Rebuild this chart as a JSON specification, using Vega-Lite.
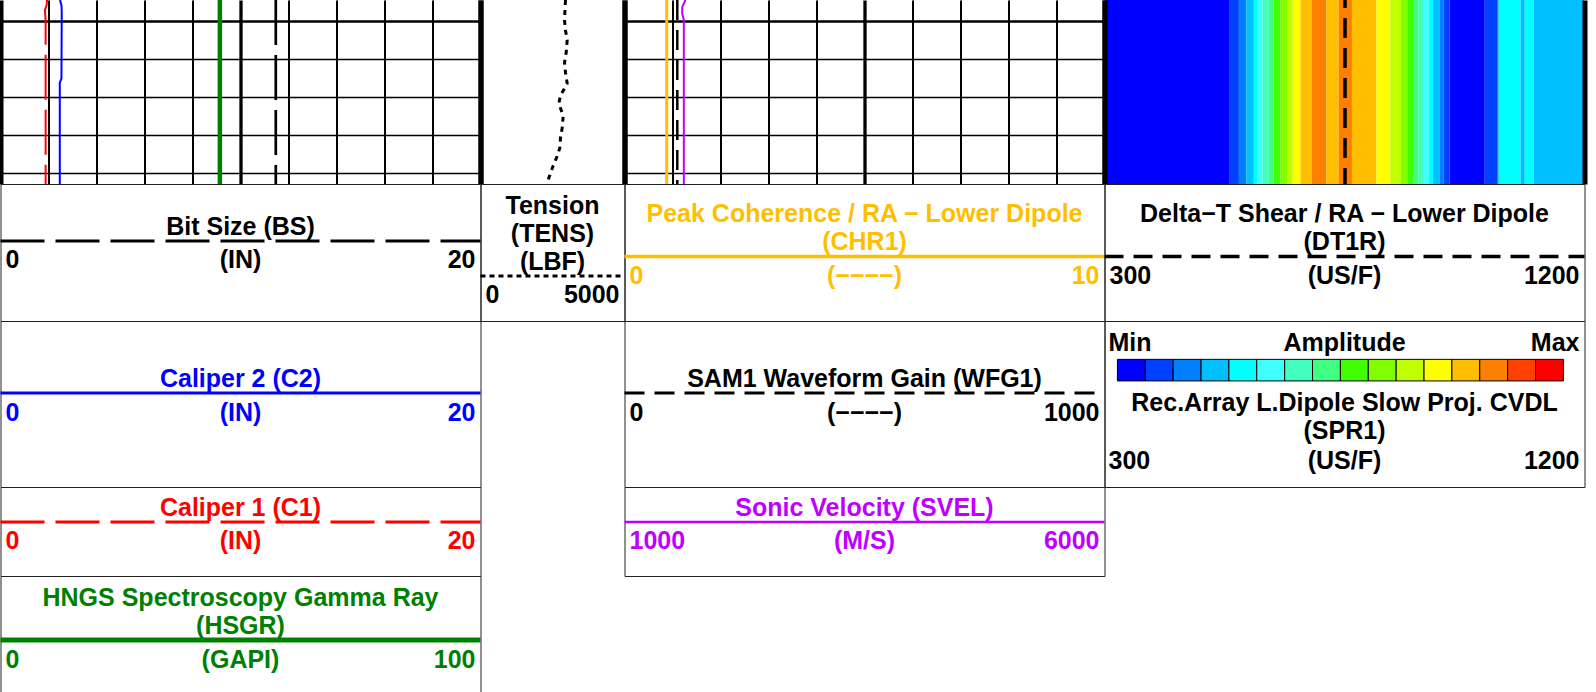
{
  "$schema": "https://vega.github.io/schema/vega-lite/v6.json",
  "padding": {"left": -2.5, "top": 0, "right": 0, "bottom": 0},
  "background": "white",
  "columns": 4,
  "spacing": 0,
  "bounds": "flush",
  "align": "each",
  "config": {
    "view": {"stroke": null},
    "text": {"font": "Liberation Sans", "fontWeight": "bold", "fontSize": 25, "lineHeight": 28, "lineBreak": "\n"},
    "axis": {"gridColor": "black", "gridOpacity": 1}
  },
  "datasets": {
    "track1": [
      {"depth": 999.44, "C1": 1.94, "C2": 2.48, "BS": 11.47, "HSGR": 45.7},
      {"depth": 999.58, "C1": 1.92, "C2": 2.54, "BS": 11.47, "HSGR": 45.7},
      {"depth": 999.71, "C1": 1.85, "C2": 2.55, "BS": 11.47, "HSGR": 45.7},
      {"depth": 999.97, "C1": 1.88, "C2": 2.55, "BS": 11.47, "HSGR": 45.7},
      {"depth": 1001.51, "C1": 1.88, "C2": 2.54, "BS": 11.47, "HSGR": 45.7},
      {"depth": 1001.62, "C1": 1.88, "C2": 2.47, "BS": 11.47, "HSGR": 45.7},
      {"depth": 1004.29, "C1": 1.88, "C2": 2.47, "BS": 11.47, "HSGR": 45.7}
    ],
    "tension": [
      {"depth": 999.44, "TENS": 2951},
      {"depth": 999.97, "TENS": 2917},
      {"depth": 1000.24, "TENS": 2951},
      {"depth": 1000.5, "TENS": 3010},
      {"depth": 1000.82, "TENS": 2976},
      {"depth": 1001.09, "TENS": 2917},
      {"depth": 1001.35, "TENS": 2951},
      {"depth": 1001.64, "TENS": 3010},
      {"depth": 1001.96, "TENS": 2778},
      {"depth": 1002.17, "TENS": 2719},
      {"depth": 1002.49, "TENS": 2871},
      {"depth": 1002.81, "TENS": 2837},
      {"depth": 1003.07, "TENS": 2778},
      {"depth": 1003.34, "TENS": 2754},
      {"depth": 1003.6, "TENS": 2639},
      {"depth": 1003.81, "TENS": 2524},
      {"depth": 1004.13, "TENS": 2372},
      {"depth": 1004.29, "TENS": 2337}
    ],
    "track3": [
      {"depth": 999.44, "CHR1": 0.88, "WFG1": 110, "SVEL": 1635},
      {"depth": 999.63, "CHR1": 0.88, "WFG1": 110, "SVEL": 1601},
      {"depth": 999.79, "CHR1": 0.88, "WFG1": 110, "SVEL": 1601},
      {"depth": 999.97, "CHR1": 0.88, "WFG1": 110, "SVEL": 1618},
      {"depth": 1004.29, "CHR1": 0.88, "WFG1": 110, "SVEL": 1618}
    ],
    "track4": [
      {"depth": 999.44, "DT1R": 751},
      {"depth": 1004.29, "DT1R": 751}
    ],
    "image": [
      {"s0": 300, "s1": 535, "level": 1},
      {"s0": 535, "s1": 552, "level": 2},
      {"s0": 552, "s1": 566, "level": 3},
      {"s0": 566, "s1": 580, "level": 4},
      {"s0": 580, "s1": 587, "level": 5},
      {"s0": 587, "s1": 596, "level": 6},
      {"s0": 596, "s1": 608, "level": 7},
      {"s0": 608, "s1": 617, "level": 8},
      {"s0": 617, "s1": 630, "level": 9},
      {"s0": 630, "s1": 643, "level": 10},
      {"s0": 643, "s1": 653, "level": 11},
      {"s0": 653, "s1": 667.5, "level": 12},
      {"s0": 667.5, "s1": 689, "level": 13},
      {"s0": 689, "s1": 716, "level": 14},
      {"s0": 716, "s1": 739, "level": 13},
      {"s0": 739, "s1": 764, "level": 14},
      {"s0": 764, "s1": 810, "level": 13},
      {"s0": 810, "s1": 836, "level": 12},
      {"s0": 836, "s1": 856, "level": 11},
      {"s0": 856, "s1": 869, "level": 10},
      {"s0": 869, "s1": 880, "level": 9},
      {"s0": 880, "s1": 889, "level": 8},
      {"s0": 889, "s1": 899, "level": 7},
      {"s0": 899, "s1": 908, "level": 6},
      {"s0": 908, "s1": 916, "level": 5},
      {"s0": 916, "s1": 928, "level": 4},
      {"s0": 928, "s1": 936, "level": 3},
      {"s0": 936, "s1": 947, "level": 2},
      {"s0": 947, "s1": 1013, "level": 1},
      {"s0": 1013, "s1": 1036, "level": 2},
      {"s0": 1036, "s1": 1039, "level": 3},
      {"s0": 1039, "s1": 1080, "level": 5},
      {"s0": 1080, "s1": 1088, "level": 4},
      {"s0": 1088, "s1": 1105, "level": 5},
      {"s0": 1105, "s1": 1200, "level": 4}
    ],
    "levels": [
      {"level": 1}, {"level": 2}, {"level": 3}, {"level": 4}, {"level": 5}, {"level": 6}, {"level": 7}, {"level": 8},
      {"level": 9}, {"level": 10}, {"level": 11}, {"level": 12}, {"level": 13}, {"level": 14}, {"level": 15}, {"level": 16}
    ],
    "blank": [{"note": ""}],
    "headers": [
      {"panel": "BS", "role": "title", "text": "Bit Size (BS)", "value": 10},
      {"panel": "BS", "role": "unit", "text": "(IN)", "value": 10},
      {"panel": "BS", "role": "min", "text": "0", "value": 0},
      {"panel": "BS", "role": "max", "text": "20", "value": 20},
      {"panel": "TENS", "role": "title", "text": "Tension\n(TENS)\n(LBF)", "value": 2500},
      {"panel": "TENS", "role": "min", "text": "0", "value": 0},
      {"panel": "TENS", "role": "max", "text": "5000", "value": 5000},
      {"panel": "CHR1", "role": "title", "text": "Peak Coherence / RA − Lower Dipole\n(CHR1)", "value": 5},
      {"panel": "CHR1", "role": "unit", "text": "(−−−−)", "value": 5},
      {"panel": "CHR1", "role": "min", "text": "0", "value": 0},
      {"panel": "CHR1", "role": "max", "text": "10", "value": 10},
      {"panel": "DT1R", "role": "title", "text": "Delta−T Shear / RA − Lower Dipole\n(DT1R)", "value": 750},
      {"panel": "DT1R", "role": "unit", "text": "(US/F)", "value": 750},
      {"panel": "DT1R", "role": "min", "text": "300", "value": 300},
      {"panel": "DT1R", "role": "max", "text": "1200", "value": 1200},
      {"panel": "C2", "role": "title", "text": "Caliper 2 (C2)", "value": 10},
      {"panel": "C2", "role": "unit", "text": "(IN)", "value": 10},
      {"panel": "C2", "role": "min", "text": "0", "value": 0},
      {"panel": "C2", "role": "max", "text": "20", "value": 20},
      {"panel": "WFG1", "role": "title", "text": "SAM1 Waveform Gain (WFG1)", "value": 500},
      {"panel": "WFG1", "role": "unit", "text": "(−−−−)", "value": 500},
      {"panel": "WFG1", "role": "min", "text": "0", "value": 0},
      {"panel": "WFG1", "role": "max", "text": "1000", "value": 1000},
      {"panel": "SPR1", "role": "amin", "text": "Min", "value": 300},
      {"panel": "SPR1", "role": "amid", "text": "Amplitude", "value": 750},
      {"panel": "SPR1", "role": "amax", "text": "Max", "value": 1200},
      {"panel": "SPR1", "role": "title", "text": "Rec.Array L.Dipole Slow Proj. CVDL\n(SPR1)", "value": 750},
      {"panel": "SPR1", "role": "unit", "text": "(US/F)", "value": 750},
      {"panel": "SPR1", "role": "min", "text": "300", "value": 300},
      {"panel": "SPR1", "role": "max", "text": "1200", "value": 1200},
      {"panel": "C1", "role": "title", "text": "Caliper 1 (C1)", "value": 10},
      {"panel": "C1", "role": "unit", "text": "(IN)", "value": 10},
      {"panel": "C1", "role": "min", "text": "0", "value": 0},
      {"panel": "C1", "role": "max", "text": "20", "value": 20},
      {"panel": "SVEL", "role": "title", "text": "Sonic Velocity (SVEL)", "value": 3500},
      {"panel": "SVEL", "role": "unit", "text": "(M/S)", "value": 3500},
      {"panel": "SVEL", "role": "min", "text": "1000", "value": 1000},
      {"panel": "SVEL", "role": "max", "text": "6000", "value": 6000},
      {"panel": "HSGR", "role": "title", "text": "HNGS Spectroscopy Gamma Ray\n(HSGR)", "value": 50},
      {"panel": "HSGR", "role": "unit", "text": "(GAPI)", "value": 50},
      {"panel": "HSGR", "role": "min", "text": "0", "value": 0},
      {"panel": "HSGR", "role": "max", "text": "100", "value": 100}
    ]
  },
  "concat": [
    {
      "width": 480, "height": 184,
      "data": {"name": "track1"},
      "resolve": {"scale": {"x": "independent"}, "axis": {"x": "independent"}},
      "layer": [
        {
          "mark": {"type": "line", "color": "#0000ff", "strokeWidth": 2, "clip": true},
          "encoding": {
            "x": {"field": "C2", "type": "quantitative", "scale": {"domain": [0, 20], "nice": false, "zero": false},
              "axis": {"values": [0, 2, 4, 6, 8, 10, 12, 14, 16, 18, 20], "grid": true, "labels": false, "ticks": false, "domain": false, "title": null,
                "gridWidth": {"condition": [{"test": "datum.value == 0 || datum.value == 20", "value": 5}, {"test": "datum.value == 10", "value": 3.3}], "value": 2}}},
            "y": {"field": "depth", "type": "quantitative", "scale": {"domain": [999.44, 1004.29], "reverse": true, "nice": false, "zero": false},
              "axis": {"values": [1000, 1001, 1002, 1003, 1004], "grid": true, "labels": false, "ticks": false, "domain": false, "title": null,
                "gridWidth": {"condition": {"test": "datum.value == 1000", "value": 2.7}, "value": 1.5}}},
            "order": {"field": "depth", "type": "quantitative"}
          }
        },
        {
          "mark": {"type": "line", "color": "#ff0000", "strokeWidth": 2, "strokeDash": [45, 10], "clip": true},
          "encoding": {
            "x": {"field": "C1", "type": "quantitative", "scale": {"domain": [0, 20], "nice": false, "zero": false}, "axis": null},
            "y": {"field": "depth", "type": "quantitative", "scale": {"domain": [999.44, 1004.29], "reverse": true, "nice": false, "zero": false},
              "axis": {"values": [1000, 1001, 1002, 1003, 1004], "grid": true, "labels": false, "ticks": false, "domain": false, "title": null,
                "gridWidth": {"condition": {"test": "datum.value == 1000", "value": 2.7}, "value": 1.5}}},
            "order": {"field": "depth", "type": "quantitative"}
          }
        },
        {
          "mark": {"type": "line", "color": "#008000", "strokeWidth": 4.5, "clip": true},
          "encoding": {
            "x": {"field": "HSGR", "type": "quantitative", "scale": {"domain": [0, 100], "nice": false, "zero": false}, "axis": null},
            "y": {"field": "depth", "type": "quantitative", "scale": {"domain": [999.44, 1004.29], "reverse": true, "nice": false, "zero": false},
              "axis": {"values": [1000, 1001, 1002, 1003, 1004], "grid": true, "labels": false, "ticks": false, "domain": false, "title": null,
                "gridWidth": {"condition": {"test": "datum.value == 1000", "value": 2.7}, "value": 1.5}}},
            "order": {"field": "depth", "type": "quantitative"}
          }
        },
        {
          "mark": {"type": "line", "color": "black", "strokeWidth": 2.7, "strokeDash": [45, 10], "clip": true},
          "encoding": {
            "x": {"field": "BS", "type": "quantitative", "scale": {"domain": [0, 20], "nice": false, "zero": false}, "axis": null},
            "y": {"field": "depth", "type": "quantitative", "scale": {"domain": [999.44, 1004.29], "reverse": true, "nice": false, "zero": false},
              "axis": {"values": [1000, 1001, 1002, 1003, 1004], "grid": true, "labels": false, "ticks": false, "domain": false, "title": null,
                "gridWidth": {"condition": {"test": "datum.value == 1000", "value": 2.7}, "value": 1.5}}},
            "order": {"field": "depth", "type": "quantitative"}
          }
        }
      ]
    },
    {
      "width": 144, "height": 184,
      "data": {"name": "tension"},
      "mark": {"type": "line", "color": "black", "strokeWidth": 3, "strokeDash": [5, 5], "clip": true},
      "encoding": {
        "x": {"field": "TENS", "type": "quantitative", "scale": {"domain": [0, 5000], "nice": false, "zero": false},
          "axis": {"values": [0, 5000], "grid": true, "labels": false, "ticks": false, "domain": false, "title": null, "gridWidth": 5}},
        "y": {"field": "depth", "type": "quantitative", "scale": {"domain": [999.44, 1004.29], "reverse": true, "nice": false, "zero": false}, "axis": null},
        "order": {"field": "depth", "type": "quantitative"}
      }
    },
    {
      "width": 480, "height": 184,
      "data": {"name": "track3"},
      "resolve": {"scale": {"x": "independent"}, "axis": {"x": "independent"}},
      "layer": [
        {
          "mark": {"type": "line", "color": "#ffbf00", "strokeWidth": 3, "clip": true},
          "encoding": {
            "x": {"field": "CHR1", "type": "quantitative", "scale": {"domain": [0, 10], "nice": false, "zero": false},
              "axis": {"values": [0, 1, 2, 3, 4, 5, 6, 7, 8, 9, 10], "grid": true, "labels": false, "ticks": false, "domain": false, "title": null,
                "gridWidth": {"condition": [{"test": "datum.value == 0 || datum.value == 10", "value": 5}, {"test": "datum.value == 5", "value": 3.3}], "value": 2}}},
            "y": {"field": "depth", "type": "quantitative", "scale": {"domain": [999.44, 1004.29], "reverse": true, "nice": false, "zero": false},
              "axis": {"values": [1000, 1001, 1002, 1003, 1004], "grid": true, "labels": false, "ticks": false, "domain": false, "title": null,
                "gridWidth": {"condition": {"test": "datum.value == 1000", "value": 2.7}, "value": 1.5}}},
            "order": {"field": "depth", "type": "quantitative"}
          }
        },
        {
          "mark": {"type": "line", "color": "black", "strokeWidth": 2.5, "strokeDash": [20, 10], "clip": true},
          "encoding": {
            "x": {"field": "WFG1", "type": "quantitative", "scale": {"domain": [0, 1000], "nice": false, "zero": false}, "axis": null},
            "y": {"field": "depth", "type": "quantitative", "scale": {"domain": [999.44, 1004.29], "reverse": true, "nice": false, "zero": false},
              "axis": {"values": [1000, 1001, 1002, 1003, 1004], "grid": true, "labels": false, "ticks": false, "domain": false, "title": null,
                "gridWidth": {"condition": {"test": "datum.value == 1000", "value": 2.7}, "value": 1.5}}},
            "order": {"field": "depth", "type": "quantitative"}
          }
        },
        {
          "mark": {"type": "line", "color": "#bf00ff", "strokeWidth": 2, "clip": true},
          "encoding": {
            "x": {"field": "SVEL", "type": "quantitative", "scale": {"domain": [1000, 6000], "nice": false, "zero": false}, "axis": null},
            "y": {"field": "depth", "type": "quantitative", "scale": {"domain": [999.44, 1004.29], "reverse": true, "nice": false, "zero": false},
              "axis": {"values": [1000, 1001, 1002, 1003, 1004], "grid": true, "labels": false, "ticks": false, "domain": false, "title": null,
                "gridWidth": {"condition": {"test": "datum.value == 1000", "value": 2.7}, "value": 1.5}}},
            "order": {"field": "depth", "type": "quantitative"}
          }
        }
      ]
    },
    {
      "width": 480, "height": 184,
      "layer": [
        {
          "data": {"name": "image"},
          "mark": {"type": "rect", "clip": true},
          "encoding": {
            "x": {"field": "s0", "type": "quantitative", "scale": {"domain": [300, 1200], "nice": false, "zero": false},
              "axis": {"values": [300, 1200], "grid": true, "labels": false, "ticks": false, "domain": false, "title": null, "gridWidth": 5, "zindex": 1}},
            "x2": {"field": "s1"},
            "y": {"datum": 999.44, "type": "quantitative", "scale": {"domain": [999.44, 1004.29], "reverse": true, "nice": false, "zero": false}, "axis": null},
            "y2": {"datum": 1004.29},
            "color": {"field": "level", "type": "ordinal", "legend": null,
              "scale": {"domain": [1, 2, 3, 4, 5, 6, 7, 8, 9, 10, 11, 12, 13, 14, 15, 16],
                "range": ["#0000ff", "#0040ff", "#0080ff", "#00bfff", "#00ffff", "#40ffff", "#40ffbf", "#40ff80", "#40ff00", "#80ff00", "#bfff00", "#ffff00", "#ffbf00", "#ff8000", "#ff4000", "#ff0000"]}}
          }
        },
        {
          "data": {"name": "track4"},
          "mark": {"type": "line", "color": "black", "strokeWidth": 3.5, "strokeDash": [20, 10], "strokeDashOffset": 12, "clip": true},
          "encoding": {
            "x": {"field": "DT1R", "type": "quantitative"},
            "y": {"field": "depth", "type": "quantitative", "axis": null},
            "order": {"field": "depth", "type": "quantitative"}
          }
        }
      ]
    },
    {
      "width": 480, "height": 137,
      "view": {"stroke": "#222", "strokeWidth": 1},
      "data": {"name": "headers"},
      "encoding": {
        "x": {"field": "value", "type": "quantitative", "scale": {"domain": [0, 20], "nice": false, "zero": false}, "axis": null},
        "y": {"datum": 0.416, "type": "quantitative", "scale": {"domain": [0, 1], "reverse": true, "nice": false, "zero": false}, "axis": null}
      },
      "layer": [
        {"transform": [{"filter": "datum.panel == 'BS' && datum.role == 'title'"}], "mark": {"type": "rule", "color": "black", "strokeWidth": 3, "strokeDash": [44, 11]}, "encoding": {"x": {"datum": 0, "type": "quantitative"}, "x2": {"datum": 20}}},
        {"transform": [{"filter": "datum.panel == 'BS' && datum.role == 'title'"}], "mark": {"type": "text", "color": "black", "align": "center", "baseline": "bottom", "dy": -1}, "encoding": {"text": {"field": "text"}}},
        {"transform": [{"filter": "datum.panel == 'BS' && datum.role == 'unit'"}], "mark": {"type": "text", "color": "black", "align": "center", "baseline": "middle", "dy": 19.5}, "encoding": {"text": {"field": "text"}}},
        {"transform": [{"filter": "datum.panel == 'BS' && datum.role == 'min'"}], "mark": {"type": "text", "color": "black", "align": "left", "dx": 5, "baseline": "middle", "dy": 19.5}, "encoding": {"text": {"field": "text"}}},
        {"transform": [{"filter": "datum.panel == 'BS' && datum.role == 'max'"}], "mark": {"type": "text", "color": "black", "align": "right", "dx": -5, "baseline": "middle", "dy": 19.5}, "encoding": {"text": {"field": "text"}}}
      ]
    },
    {
      "width": 144, "height": 137,
      "view": {"stroke": "#222", "strokeWidth": 1},
      "data": {"name": "headers"},
      "encoding": {
        "x": {"field": "value", "type": "quantitative", "scale": {"domain": [0, 5000], "nice": false, "zero": false}, "axis": null},
        "y": {"datum": 0.672, "type": "quantitative", "scale": {"domain": [0, 1], "reverse": true, "nice": false, "zero": false}, "axis": null}
      },
      "layer": [
        {"transform": [{"filter": "datum.panel == 'TENS' && datum.role == 'title'"}], "mark": {"type": "rule", "color": "black", "strokeWidth": 3, "strokeDash": [5, 4]}, "encoding": {"x": {"datum": 0, "type": "quantitative"}, "x2": {"datum": 5000}}},
        {"transform": [{"filter": "datum.panel == 'TENS' && datum.role == 'title'"}], "mark": {"type": "text", "color": "black", "align": "center", "baseline": "bottom", "dy": -57}, "encoding": {"text": {"field": "text"}}},
        {"transform": [{"filter": "datum.panel == 'TENS' && datum.role == 'min'"}], "mark": {"type": "text", "color": "black", "align": "left", "dx": 5, "baseline": "middle", "dy": 19}, "encoding": {"text": {"field": "text"}}},
        {"transform": [{"filter": "datum.panel == 'TENS' && datum.role == 'max'"}], "mark": {"type": "text", "color": "black", "align": "right", "dx": -5, "baseline": "middle", "dy": 19}, "encoding": {"text": {"field": "text"}}}
      ]
    },
    {
      "width": 480, "height": 137,
      "view": {"stroke": "#222", "strokeWidth": 1},
      "data": {"name": "headers"},
      "encoding": {
        "x": {"field": "value", "type": "quantitative", "scale": {"domain": [0, 10], "nice": false, "zero": false}, "axis": null},
        "y": {"datum": 0.529, "type": "quantitative", "scale": {"domain": [0, 1], "reverse": true, "nice": false, "zero": false}, "axis": null}
      },
      "layer": [
        {"transform": [{"filter": "datum.panel == 'CHR1' && datum.role == 'title'"}], "mark": {"type": "rule", "color": "#ffbf00", "strokeWidth": 3.5}, "encoding": {"x": {"datum": 0, "type": "quantitative"}, "x2": {"datum": 10}}},
        {"transform": [{"filter": "datum.panel == 'CHR1' && datum.role == 'title'"}], "mark": {"type": "text", "color": "#ffbf00", "align": "center", "baseline": "bottom", "dy": -29}, "encoding": {"text": {"field": "text"}}},
        {"transform": [{"filter": "datum.panel == 'CHR1' && datum.role == 'unit'"}], "mark": {"type": "text", "color": "#ffbf00", "align": "center", "baseline": "middle", "dy": 19.5}, "encoding": {"text": {"field": "text"}}},
        {"transform": [{"filter": "datum.panel == 'CHR1' && datum.role == 'min'"}], "mark": {"type": "text", "color": "#ffbf00", "align": "left", "dx": 5, "baseline": "middle", "dy": 19.5}, "encoding": {"text": {"field": "text"}}},
        {"transform": [{"filter": "datum.panel == 'CHR1' && datum.role == 'max'"}], "mark": {"type": "text", "color": "#ffbf00", "align": "right", "dx": -5, "baseline": "middle", "dy": 19.5}, "encoding": {"text": {"field": "text"}}}
      ]
    },
    {
      "width": 480, "height": 137,
      "view": {"stroke": "#222", "strokeWidth": 1},
      "data": {"name": "headers"},
      "encoding": {
        "x": {"field": "value", "type": "quantitative", "scale": {"domain": [300, 1200], "nice": false, "zero": false}, "axis": null},
        "y": {"datum": 0.529, "type": "quantitative", "scale": {"domain": [0, 1], "reverse": true, "nice": false, "zero": false}, "axis": null}
      },
      "layer": [
        {"transform": [{"filter": "datum.panel == 'DT1R' && datum.role == 'title'"}], "mark": {"type": "rule", "color": "black", "strokeWidth": 3.5, "strokeDash": [19, 10]}, "encoding": {"x": {"datum": 300, "type": "quantitative"}, "x2": {"datum": 1200}}},
        {"transform": [{"filter": "datum.panel == 'DT1R' && datum.role == 'title'"}], "mark": {"type": "text", "color": "black", "align": "center", "baseline": "bottom", "dy": -29}, "encoding": {"text": {"field": "text"}}},
        {"transform": [{"filter": "datum.panel == 'DT1R' && datum.role == 'unit'"}], "mark": {"type": "text", "color": "black", "align": "center", "baseline": "middle", "dy": 19.5}, "encoding": {"text": {"field": "text"}}},
        {"transform": [{"filter": "datum.panel == 'DT1R' && datum.role == 'min'"}], "mark": {"type": "text", "color": "black", "align": "left", "dx": 5, "baseline": "middle", "dy": 19.5}, "encoding": {"text": {"field": "text"}}},
        {"transform": [{"filter": "datum.panel == 'DT1R' && datum.role == 'max'"}], "mark": {"type": "text", "color": "black", "align": "right", "dx": -5, "baseline": "middle", "dy": 19.5}, "encoding": {"text": {"field": "text"}}}
      ]
    },
    {
      "width": 480, "height": 166,
      "view": {"stroke": "#222", "strokeWidth": 1},
      "data": {"name": "headers"},
      "encoding": {
        "x": {"field": "value", "type": "quantitative", "scale": {"domain": [0, 20], "nice": false, "zero": false}, "axis": null},
        "y": {"datum": 0.434, "type": "quantitative", "scale": {"domain": [0, 1], "reverse": true, "nice": false, "zero": false}, "axis": null}
      },
      "layer": [
        {"transform": [{"filter": "datum.panel == 'C2' && datum.role == 'title'"}], "mark": {"type": "rule", "color": "#0000ff", "strokeWidth": 3}, "encoding": {"x": {"datum": 0, "type": "quantitative"}, "x2": {"datum": 20}}},
        {"transform": [{"filter": "datum.panel == 'C2' && datum.role == 'title'"}], "mark": {"type": "text", "color": "#0000ff", "align": "center", "baseline": "bottom", "dy": -1}, "encoding": {"text": {"field": "text"}}},
        {"transform": [{"filter": "datum.panel == 'C2' && datum.role == 'unit'"}], "mark": {"type": "text", "color": "#0000ff", "align": "center", "baseline": "middle", "dy": 19.5}, "encoding": {"text": {"field": "text"}}},
        {"transform": [{"filter": "datum.panel == 'C2' && datum.role == 'min'"}], "mark": {"type": "text", "color": "#0000ff", "align": "left", "dx": 5, "baseline": "middle", "dy": 19.5}, "encoding": {"text": {"field": "text"}}},
        {"transform": [{"filter": "datum.panel == 'C2' && datum.role == 'max'"}], "mark": {"type": "text", "color": "#0000ff", "align": "right", "dx": -5, "baseline": "middle", "dy": 19.5}, "encoding": {"text": {"field": "text"}}}
      ]
    },
    {
      "width": 144, "height": 166,
      "data": {"name": "blank"},
      "mark": {"type": "text"},
      "encoding": {"text": {"field": "note"}}
    },
    {
      "width": 480, "height": 166,
      "view": {"stroke": "#222", "strokeWidth": 1},
      "data": {"name": "headers"},
      "encoding": {
        "x": {"field": "value", "type": "quantitative", "scale": {"domain": [0, 1000], "nice": false, "zero": false}, "axis": null},
        "y": {"datum": 0.434, "type": "quantitative", "scale": {"domain": [0, 1], "reverse": true, "nice": false, "zero": false}, "axis": null}
      },
      "layer": [
        {"transform": [{"filter": "datum.panel == 'WFG1' && datum.role == 'title'"}], "mark": {"type": "rule", "color": "black", "strokeWidth": 3, "strokeDash": [20, 10]}, "encoding": {"x": {"datum": 0, "type": "quantitative"}, "x2": {"datum": 1000}}},
        {"transform": [{"filter": "datum.panel == 'WFG1' && datum.role == 'title'"}], "mark": {"type": "text", "color": "black", "align": "center", "baseline": "bottom", "dy": -1}, "encoding": {"text": {"field": "text"}}},
        {"transform": [{"filter": "datum.panel == 'WFG1' && datum.role == 'unit'"}], "mark": {"type": "text", "color": "black", "align": "center", "baseline": "middle", "dy": 19.5}, "encoding": {"text": {"field": "text"}}},
        {"transform": [{"filter": "datum.panel == 'WFG1' && datum.role == 'min'"}], "mark": {"type": "text", "color": "black", "align": "left", "dx": 5, "baseline": "middle", "dy": 19.5}, "encoding": {"text": {"field": "text"}}},
        {"transform": [{"filter": "datum.panel == 'WFG1' && datum.role == 'max'"}], "mark": {"type": "text", "color": "black", "align": "right", "dx": -5, "baseline": "middle", "dy": 19.5}, "encoding": {"text": {"field": "text"}}}
      ]
    },
    {
      "width": 480, "height": 166,
      "view": {"stroke": "#222", "strokeWidth": 1},
      "resolve": {"scale": {"x": "independent"}},
      "layer": [
        {
          "data": {"name": "levels"},
          "mark": {"type": "rect", "stroke": "black", "strokeWidth": 1},
          "encoding": {
            "x": {"field": "level", "type": "ordinal", "scale": {"type": "band", "paddingInner": 0, "paddingOuter": 0.61, "align": 0.38}, "axis": null},
            "y": {"datum": 0.231, "type": "quantitative", "scale": {"domain": [0, 1], "reverse": true, "nice": false, "zero": false}, "axis": null},
            "y2": {"datum": 0.361},
            "color": {"field": "level", "type": "ordinal", "legend": null,
              "scale": {"domain": [1, 2, 3, 4, 5, 6, 7, 8, 9, 10, 11, 12, 13, 14, 15, 16],
                "range": ["#0000ff", "#0040ff", "#0080ff", "#00bfff", "#00ffff", "#40ffff", "#40ffbf", "#40ff80", "#40ff00", "#80ff00", "#bfff00", "#ffff00", "#ffbf00", "#ff8000", "#ff4000", "#ff0000"]}}
          }
        },
        {
          "data": {"name": "headers"},
          "layer": [
            {"transform": [{"filter": "datum.panel == 'SPR1' && datum.role == 'amin'"}], "mark": {"type": "text", "color": "black", "align": "left", "dx": 4, "baseline": "middle"},
              "encoding": {"x": {"field": "value", "type": "quantitative", "scale": {"domain": [300, 1200], "nice": false, "zero": false}, "axis": null}, "y": {"datum": 0.131, "type": "quantitative"}, "text": {"field": "text"}}},
            {"transform": [{"filter": "datum.panel == 'SPR1' && datum.role == 'amid'"}], "mark": {"type": "text", "color": "black", "align": "center", "baseline": "middle"},
              "encoding": {"x": {"field": "value", "type": "quantitative", "scale": {"domain": [300, 1200], "nice": false, "zero": false}, "axis": null}, "y": {"datum": 0.131, "type": "quantitative"}, "text": {"field": "text"}}},
            {"transform": [{"filter": "datum.panel == 'SPR1' && datum.role == 'amax'"}], "mark": {"type": "text", "color": "black", "align": "right", "dx": -5, "baseline": "middle"},
              "encoding": {"x": {"field": "value", "type": "quantitative", "scale": {"domain": [300, 1200], "nice": false, "zero": false}, "axis": null}, "y": {"datum": 0.131, "type": "quantitative"}, "text": {"field": "text"}}},
            {"transform": [{"filter": "datum.panel == 'SPR1' && datum.role == 'title'"}], "mark": {"type": "text", "color": "black", "align": "center", "baseline": "bottom"},
              "encoding": {"x": {"field": "value", "type": "quantitative", "scale": {"domain": [300, 1200], "nice": false, "zero": false}, "axis": null}, "y": {"datum": 0.57, "type": "quantitative"}, "text": {"field": "text"}}},
            {"transform": [{"filter": "datum.panel == 'SPR1' && datum.role == 'unit'"}], "mark": {"type": "text", "color": "black", "align": "center", "baseline": "middle"},
              "encoding": {"x": {"field": "value", "type": "quantitative", "scale": {"domain": [300, 1200], "nice": false, "zero": false}, "axis": null}, "y": {"datum": 0.843, "type": "quantitative"}, "text": {"field": "text"}}},
            {"transform": [{"filter": "datum.panel == 'SPR1' && datum.role == 'min'"}], "mark": {"type": "text", "color": "black", "align": "left", "dx": 4, "baseline": "middle"},
              "encoding": {"x": {"field": "value", "type": "quantitative", "scale": {"domain": [300, 1200], "nice": false, "zero": false}, "axis": null}, "y": {"datum": 0.843, "type": "quantitative"}, "text": {"field": "text"}}},
            {"transform": [{"filter": "datum.panel == 'SPR1' && datum.role == 'max'"}], "mark": {"type": "text", "color": "black", "align": "right", "dx": -5, "baseline": "middle"},
              "encoding": {"x": {"field": "value", "type": "quantitative", "scale": {"domain": [300, 1200], "nice": false, "zero": false}, "axis": null}, "y": {"datum": 0.843, "type": "quantitative"}, "text": {"field": "text"}}}
          ]
        }
      ]
    },
    {
      "width": 480, "height": 89,
      "view": {"stroke": "#222", "strokeWidth": 1},
      "data": {"name": "headers"},
      "encoding": {
        "x": {"field": "value", "type": "quantitative", "scale": {"domain": [0, 20], "nice": false, "zero": false}, "axis": null},
        "y": {"datum": 0.393, "type": "quantitative", "scale": {"domain": [0, 1], "reverse": true, "nice": false, "zero": false}, "axis": null}
      },
      "layer": [
        {"transform": [{"filter": "datum.panel == 'C1' && datum.role == 'title'"}], "mark": {"type": "rule", "color": "#ff0000", "strokeWidth": 3, "strokeDash": [44, 11]}, "encoding": {"x": {"datum": 0, "type": "quantitative"}, "x2": {"datum": 20}}},
        {"transform": [{"filter": "datum.panel == 'C1' && datum.role == 'title'"}], "mark": {"type": "text", "color": "#ff0000", "align": "center", "baseline": "bottom", "dy": -1}, "encoding": {"text": {"field": "text"}}},
        {"transform": [{"filter": "datum.panel == 'C1' && datum.role == 'unit'"}], "mark": {"type": "text", "color": "#ff0000", "align": "center", "baseline": "middle", "dy": 19.5}, "encoding": {"text": {"field": "text"}}},
        {"transform": [{"filter": "datum.panel == 'C1' && datum.role == 'min'"}], "mark": {"type": "text", "color": "#ff0000", "align": "left", "dx": 5, "baseline": "middle", "dy": 19.5}, "encoding": {"text": {"field": "text"}}},
        {"transform": [{"filter": "datum.panel == 'C1' && datum.role == 'max'"}], "mark": {"type": "text", "color": "#ff0000", "align": "right", "dx": -5, "baseline": "middle", "dy": 19.5}, "encoding": {"text": {"field": "text"}}}
      ]
    },
    {
      "width": 144, "height": 89,
      "data": {"name": "blank"},
      "mark": {"type": "text"},
      "encoding": {"text": {"field": "note"}}
    },
    {
      "width": 480, "height": 89,
      "view": {"stroke": "#222", "strokeWidth": 1},
      "data": {"name": "headers"},
      "encoding": {
        "x": {"field": "value", "type": "quantitative", "scale": {"domain": [1000, 6000], "nice": false, "zero": false}, "axis": null},
        "y": {"datum": 0.393, "type": "quantitative", "scale": {"domain": [0, 1], "reverse": true, "nice": false, "zero": false}, "axis": null}
      },
      "layer": [
        {"transform": [{"filter": "datum.panel == 'SVEL' && datum.role == 'title'"}], "mark": {"type": "rule", "color": "#bf00ff", "strokeWidth": 2.5}, "encoding": {"x": {"datum": 1000, "type": "quantitative"}, "x2": {"datum": 6000}}},
        {"transform": [{"filter": "datum.panel == 'SVEL' && datum.role == 'title'"}], "mark": {"type": "text", "color": "#bf00ff", "align": "center", "baseline": "bottom", "dy": -1}, "encoding": {"text": {"field": "text"}}},
        {"transform": [{"filter": "datum.panel == 'SVEL' && datum.role == 'unit'"}], "mark": {"type": "text", "color": "#bf00ff", "align": "center", "baseline": "middle", "dy": 19.5}, "encoding": {"text": {"field": "text"}}},
        {"transform": [{"filter": "datum.panel == 'SVEL' && datum.role == 'min'"}], "mark": {"type": "text", "color": "#bf00ff", "align": "left", "dx": 5, "baseline": "middle", "dy": 19.5}, "encoding": {"text": {"field": "text"}}},
        {"transform": [{"filter": "datum.panel == 'SVEL' && datum.role == 'max'"}], "mark": {"type": "text", "color": "#bf00ff", "align": "right", "dx": -5, "baseline": "middle", "dy": 19.5}, "encoding": {"text": {"field": "text"}}}
      ]
    },
    {
      "width": 480, "height": 89,
      "data": {"name": "blank"},
      "mark": {"type": "text"},
      "encoding": {"text": {"field": "note"}}
    },
    {
      "width": 480, "height": 116,
      "view": {"stroke": "#222", "strokeWidth": 1},
      "data": {"name": "headers"},
      "encoding": {
        "x": {"field": "value", "type": "quantitative", "scale": {"domain": [0, 100], "nice": false, "zero": false}, "axis": null},
        "y": {"datum": 0.552, "type": "quantitative", "scale": {"domain": [0, 1], "reverse": true, "nice": false, "zero": false}, "axis": null}
      },
      "layer": [
        {"transform": [{"filter": "datum.panel == 'HSGR' && datum.role == 'title'"}], "mark": {"type": "rule", "color": "#008000", "strokeWidth": 5}, "encoding": {"x": {"datum": 0, "type": "quantitative"}, "x2": {"datum": 100}}},
        {"transform": [{"filter": "datum.panel == 'HSGR' && datum.role == 'title'"}], "mark": {"type": "text", "color": "#008000", "align": "center", "baseline": "bottom", "dy": -29}, "encoding": {"text": {"field": "text"}}},
        {"transform": [{"filter": "datum.panel == 'HSGR' && datum.role == 'unit'"}], "mark": {"type": "text", "color": "#008000", "align": "center", "baseline": "middle", "dy": 19.5}, "encoding": {"text": {"field": "text"}}},
        {"transform": [{"filter": "datum.panel == 'HSGR' && datum.role == 'min'"}], "mark": {"type": "text", "color": "#008000", "align": "left", "dx": 5, "baseline": "middle", "dy": 19.5}, "encoding": {"text": {"field": "text"}}},
        {"transform": [{"filter": "datum.panel == 'HSGR' && datum.role == 'max'"}], "mark": {"type": "text", "color": "#008000", "align": "right", "dx": -5, "baseline": "middle", "dy": 19.5}, "encoding": {"text": {"field": "text"}}}
      ]
    }
  ]
}
